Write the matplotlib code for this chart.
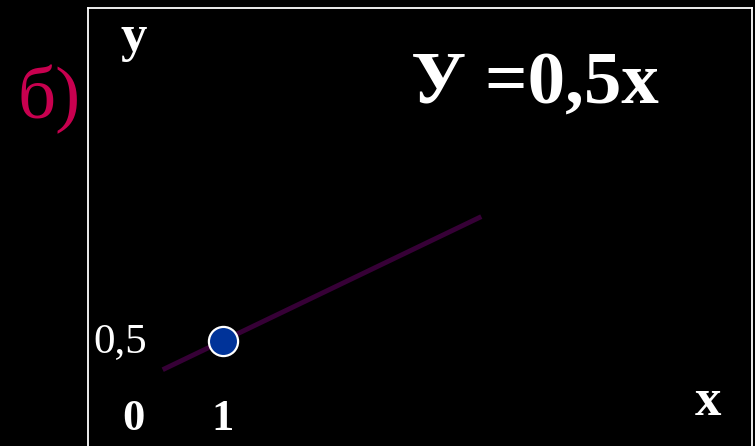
import matplotlib
matplotlib.use("Agg")
import matplotlib.pyplot as plt

# the graph of y = 0.5x
line_x = [0.33, 3.87]
line_y = [0.17, 1.93]
point_x = [1]
point_y = [0.5]
tick_x = [0, 1]
tick_x_labels = ["0", "1"]
tick_y = [0.5]
tick_y_labels = ["0,5"]
title = "У =0,5х"
part_label = "б)"

plt.rcParams['font.family'] = ['Liberation Serif', 'DejaVu Serif']

fig = plt.figure(figsize=(7.55, 4.46), dpi=100, facecolor='black')
ax = fig.add_axes([88/755, 0, (752-88)/755, (446-8)/446])
ax.set_facecolor('black')
ax.set_xlim(-0.5, 6.878)
ax.set_ylim(-0.707, 4.328)
ax.set_xticks([])
ax.set_yticks([])
for side in ['left', 'top', 'right']:
    ax.spines[side].set_color('white')
    ax.spines[side].set_linewidth(1.3)
ax.spines['bottom'].set_visible(False)

ax.plot(line_x, line_y, color='#360036', lw=3.5, solid_capstyle='butt', zorder=2)
ax.plot(point_x, point_y, 'o', ms=21, mfc='#003399', mec='white', mew=1.6, zorder=3)

# hand placed "tick" labels as on the slide
for xv, lab in zip(tick_x, tick_x_labels):
    ax.text(xv, -0.523, lab, color='white', fontsize=32, fontweight='bold',
            ha='center', va='baseline')
for yv, lab in zip(tick_y, tick_y_labels):
    ax.text(-0.144, yv - 0.126, lab, color='white', fontsize=31,
            ha='center', va='baseline')

ax.text(0.01, 3.83, "у", color='white', fontsize=38, fontweight='bold',
        ha='center', va='baseline')
ax.text(6.39, -0.35, "х", color='white', fontsize=38, fontweight='bold',
        ha='center', va='baseline')
ax.text(4.47, 3.236, title, color='white', fontsize=54, fontweight='bold',
        ha='center', va='baseline')
ax.text(-1.278, 3.063, part_label, color='#C8004F', fontsize=54,
        ha='left', va='baseline', clip_on=False)

fig.savefig('out.png', dpi=100, facecolor='black')
